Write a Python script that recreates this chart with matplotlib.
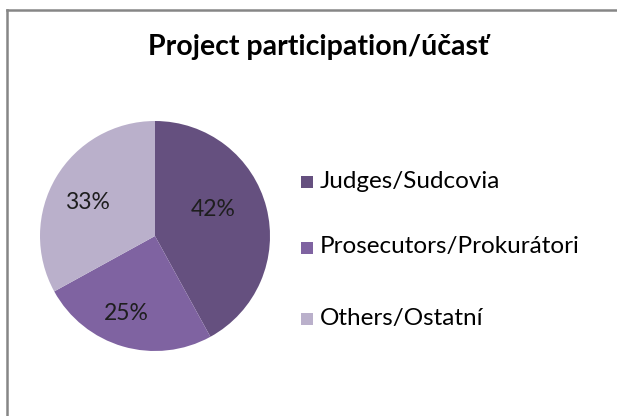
import numpy as np
import matplotlib.pyplot as plt
from matplotlib.patches import Rectangle
from matplotlib.lines import Line2D

# Data
labels = ["Judges/Sudcovia", "Prosecutors/Prokurátori", "Others/Ostatní"]
shares = [42, 25, 33]
colors = ["#65507f", "#7f63a1", "#bab0cb"]
title = "Project participation/účasť"

plt.rcParams["font.family"] = ["Lato", "DejaVu Sans"]

W, H = 617, 416
fig = plt.figure(figsize=(W / 100, H / 100), dpi=100)

# chart border (only left/top visible in the crop)
bx, by = 6.5 / W, 1 - 9.5 / H
fig.add_artist(Line2D([bx, bx], [0, by], transform=fig.transFigure,
                      color="#868686", linewidth=1.8))
fig.add_artist(Line2D([bx, 1], [by, by], transform=fig.transFigure,
                      color="#868686", linewidth=1.8))

# pie area: centre ~(155, 236) px, radius ~115 px
cx, cy, r = 155, 236, 115
ax = fig.add_axes([(cx - r) / W, (H - cy - r) / H, 2 * r / W, 2 * r / H])
wedges, _, autotexts = ax.pie(shares, colors=colors, startangle=90,
                              counterclock=False, autopct="%d%%",
                              pctdistance=0.64,
                              wedgeprops=dict(linewidth=0),
                              textprops=dict(fontsize=16.5, color="#1e1e1e"))
# nudge labels roughly where Excel placed them
label_dist = [0.56, 0.72, 0.66]
label_rot = [10, -4, 4]
for w, t, d, dr in zip(wedges, autotexts, label_dist, label_rot):
    a = np.deg2rad((w.theta1 + w.theta2) / 2 + dr)
    t.set_position((d * np.cos(a), d * np.sin(a)))
ax.set_xlim(-1, 1)
ax.set_ylim(-1, 1)
ax.set_aspect("equal")

fig.text(318 / W, 1 - 47 / H, title, fontsize=20.5, fontweight="bold",
         ha="center", va="center", color="black")

# legend
rows = [181, 247, 318]
for lab, col, y in zip(labels, colors, rows):
    fig.patches.append(Rectangle((301 / W, 1 - (y + 6.5) / H), 12 / W, 12 / H,
                                 transform=fig.transFigure,
                                 facecolor=col, edgecolor="none"))
    fig.text(320 / W, 1 - y / H, lab, fontsize=17.5, ha="left", va="center",
             color="black")

fig.savefig("out.png", dpi=100)
